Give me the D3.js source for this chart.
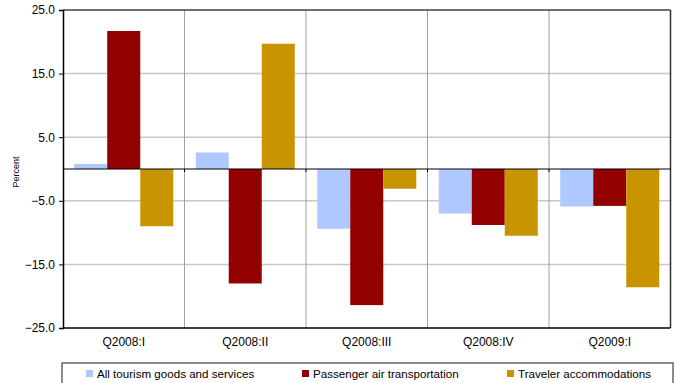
<!DOCTYPE html>
<html>
<head>
  <meta charset="utf-8">
  <script src="https://cdn.jsdelivr.net/npm/d3@7"></script>
  <style type="text/css">
    body {
      margin: 0;
      background: #fff;
      font-family: "Liberation Sans", Arial, sans-serif;
    }
    .axis text {
      font-size: 12px;
      fill: #000;
    }
  </style>
</head>
<body>
  <script type="text/javascript">

  // data
  const quarters = ['Q2008:I', 'Q2008:II', 'Q2008:III', 'Q2008:IV', 'Q2009:I'];
  const seriesNames = ['All tourism goods and services', 'Passenger air transportation', 'Traveler accommodations'];
  const allTourism = [0.8, 2.6, -9.4, -7.0, -5.9];
  const airTransport = [21.7, -18.0, -21.4, -8.8, -5.8];
  const accommodations = [-9.0, 19.7, -3.1, -10.5, -18.6];
  const yTicks = [25, 15, 5, -5, -15, -25];

  const colors = ['#afc8ff', '#930000', '#c89400'];
  const seriesValues = [allTourism, airTransport, accommodations];

  const W = 676, H = 383;
  const margin = {top: 10, left: 63, right: 5.5, bottom: 55};
  const width = W - margin.left - margin.right;
  const height = 328 - margin.top;

  const svg = d3.select('body').append('svg')
    .attr('width', W)
    .attr('height', H);

  const g = svg.append('g')
    .attr('transform', `translate(${margin.left},${margin.top})`);

  // scales
  const x0 = d3.scaleBand().domain(quarters).range([0, width]).padding(0);
  const x1 = d3.scaleBand().domain(seriesNames).range([0, x0.bandwidth()])
    .paddingInner(0).paddingOuter(0.34);
  const y = d3.scaleLinear().domain([-25, 25]).range([height, 0]);

  // horizontal grid
  g.selectAll('.hgrid').data(yTicks.filter(d => d !== 25 && d !== -25))
    .enter().append('line')
    .attr('x1', 0).attr('x2', width)
    .attr('y1', d => y(d)).attr('y2', d => y(d))
    .attr('stroke', '#c8c8c8').attr('stroke-width', 1.5);

  // vertical grid at category boundaries
  g.selectAll('.vgrid').data(quarters.slice(1))
    .enter().append('line')
    .attr('x1', d => x0(d)).attr('x2', d => x0(d))
    .attr('y1', 0).attr('y2', height)
    .attr('stroke', '#a0a0a0').attr('stroke-width', 1);

  // bars
  const rows = quarters.map((q, i) => ({q, vals: seriesNames.map((s, j) => ({s, v: seriesValues[j][i], c: colors[j]}))}));
  const grp = g.selectAll('.grp').data(rows).enter().append('g')
    .attr('transform', d => `translate(${x0(d.q)},0)`);
  grp.selectAll('rect').data(d => d.vals).enter().append('rect')
    .attr('x', d => x1(d.s))
    .attr('width', x1.bandwidth())
    .attr('y', d => y(Math.max(0, d.v)))
    .attr('height', d => Math.abs(y(d.v) - y(0)))
    .attr('fill', d => d.c);

  // frame
  g.append('line').attr('x1', 0).attr('x2', width).attr('y1', 0).attr('y2', 0)
    .attr('stroke', '#404040').attr('stroke-width', 1.5);
  g.append('line').attr('x1', width).attr('x2', width).attr('y1', 0).attr('y2', height)
    .attr('stroke', '#303030').attr('stroke-width', 1.5);
  g.append('line').attr('x1', 0).attr('x2', width).attr('y1', height).attr('y2', height)
    .attr('stroke', '#000').attr('stroke-width', 1.5);

  // zero line with ticks at boundaries
  g.append('line').attr('x1', 0).attr('x2', width).attr('y1', y(0)).attr('y2', y(0))
    .attr('stroke', '#000').attr('stroke-width', 1.2);
  g.selectAll('.ztick').data(quarters.slice(1))
    .enter().append('line')
    .attr('x1', d => x0(d)).attr('x2', d => x0(d))
    .attr('y1', y(0)).attr('y2', y(0) + 3)
    .attr('stroke', '#000').attr('stroke-width', 1);

  // y axis
  const yAxis = d3.axisLeft(y).tickValues(yTicks).tickFormat(d3.format('.1f'))
    .tickSize(4).tickPadding(4);
  const ya = g.append('g').attr('class', 'axis').call(yAxis);
  ya.select('.domain').attr('stroke', '#000').attr('stroke-width', 1.5);
  ya.selectAll('.tick line').attr('stroke', '#000');

  // x labels
  g.selectAll('.xlab').data(quarters).enter().append('text')
    .attr('x', d => x0(d) + x0.bandwidth() / 2)
    .attr('y', height + 18)
    .attr('text-anchor', 'middle')
    .style('font-size', '12px')
    .text(d => d);

  // y title
  svg.append('text')
    .attr('transform', `translate(19,172) rotate(-90)`)
    .attr('text-anchor', 'middle')
    .style('font-size', '9px')
    .text('Percent');

  // legend
  svg.append('rect')
    .attr('x', 62).attr('y', 363).attr('width', 611).attr('height', 30)
    .attr('fill', '#fff').attr('stroke', '#404040').attr('stroke-width', 1.2);
  const legendX = [86, 302, 507];
  seriesNames.forEach((s, i) => {
    svg.append('rect').attr('x', legendX[i]).attr('y', 370).attr('width', 7).attr('height', 7)
      .attr('fill', colors[i]);
    svg.append('text').attr('x', legendX[i] + 11).attr('y', 377.5)
      .style('font-size', '11.6px').text(s);
  });

  </script>
</body>
</html>
